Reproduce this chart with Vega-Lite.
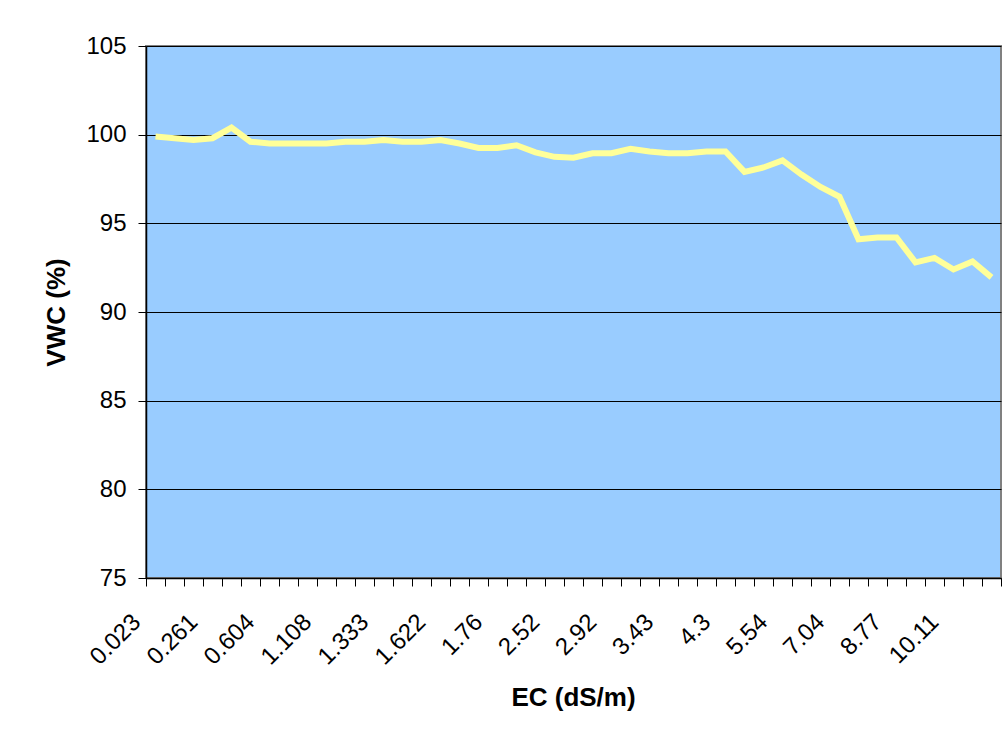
{
  "$schema": "https://vega.github.io/schema/vega-lite/v6.json",
  "width": 855,
  "height": 532,
  "autosize": {"type": "none"},
  "padding": {"left": 146, "top": 46, "right": 2, "bottom": 160},
  "background": "white",
  "data": {
    "values": [
      {"ec": "0.023", "vwc": 99.9},
      {"ec": "0.1", "vwc": 99.8},
      {"ec": "0.18", "vwc": 99.7},
      {"ec": "0.261", "vwc": 99.8},
      {"ec": "0.37", "vwc": 100.4},
      {"ec": "0.48", "vwc": 99.6},
      {"ec": "0.604", "vwc": 99.5},
      {"ec": "0.77", "vwc": 99.5},
      {"ec": "0.94", "vwc": 99.5},
      {"ec": "1.108", "vwc": 99.5},
      {"ec": "1.18", "vwc": 99.6},
      {"ec": "1.26", "vwc": 99.6},
      {"ec": "1.333", "vwc": 99.7},
      {"ec": "1.43", "vwc": 99.6},
      {"ec": "1.53", "vwc": 99.6},
      {"ec": "1.622", "vwc": 99.7},
      {"ec": "1.67", "vwc": 99.5},
      {"ec": "1.71", "vwc": 99.25},
      {"ec": "1.76", "vwc": 99.25},
      {"ec": "2.01", "vwc": 99.4},
      {"ec": "2.27", "vwc": 99.0},
      {"ec": "2.52", "vwc": 98.75},
      {"ec": "2.65", "vwc": 98.7},
      {"ec": "2.79", "vwc": 98.95},
      {"ec": "2.92", "vwc": 98.95},
      {"ec": "3.09", "vwc": 99.2},
      {"ec": "3.26", "vwc": 99.05},
      {"ec": "3.43", "vwc": 98.95},
      {"ec": "3.72", "vwc": 98.95},
      {"ec": "4.01", "vwc": 99.05},
      {"ec": "4.3", "vwc": 99.05},
      {"ec": "4.71", "vwc": 97.9},
      {"ec": "5.13", "vwc": 98.15},
      {"ec": "5.54", "vwc": 98.55},
      {"ec": "6.04", "vwc": 97.75},
      {"ec": "6.54", "vwc": 97.05},
      {"ec": "7.04", "vwc": 96.5},
      {"ec": "7.62", "vwc": 94.1},
      {"ec": "8.19", "vwc": 94.2},
      {"ec": "8.77", "vwc": 94.2},
      {"ec": "9.21", "vwc": 92.8},
      {"ec": "9.66", "vwc": 93.05},
      {"ec": "10.11", "vwc": 92.4},
      {"ec": "10.6", "vwc": 92.85},
      {"ec": "11.1", "vwc": 91.95}
    ]
  },
  "mark": {"type": "line", "color": "#FFFF99", "strokeWidth": 6, "strokeJoin": "miter"},
  "encoding": {
    "x": {
      "field": "ec",
      "type": "nominal",
      "sort": null,
      "bandPosition": 0.5,
      "scale": {"type": "band", "paddingInner": 0, "paddingOuter": 0},
      "axis": {
        "title": "EC (dS/m)",
        "tickBand": "extent",
        "grid": false,
        "labelExpr": "indexof(['0.023','0.261','0.604','1.108','1.333','1.622','1.76','2.52','2.92','3.43','4.3','5.54','7.04','8.77','10.11'], datum.value) >= 0 ? datum.label : ''",
        "labelAngle": -45,
        "labelAlign": "right",
        "labelBaseline": "alphabetic",
        "labelPadding": 37,
        "labelOffset": -14,
        "labelOverlap": false,
        "labelBound": false,
        "titleX": 427,
        "titleY": 119,
        "titleBaseline": "middle",
        "titleAlign": "center"
      }
    },
    "y": {
      "field": "vwc",
      "type": "quantitative",
      "scale": {"domain": [75, 105], "nice": false, "zero": false},
      "axis": {
        "title": "VWC (%)",
        "values": [75, 80, 85, 90, 95, 100, 105],
        "grid": true,
        "gridColor": "#000000",
        "gridWidth": 1,
        "gridOpacity": 1,
        "labelPadding": 12,
        "titleX": -90,
        "titleY": 266,
        "titleAngle": -90,
        "titleAlign": "center",
        "titleBaseline": "middle"
      }
    }
  },
  "config": {
    "font": "Liberation Sans",
    "view": {"fill": "#99CCFF", "stroke": "#808080", "strokeWidth": 2},
    "axis": {
      "domainColor": "#000000",
      "domainWidth": 1.5,
      "tickColor": "#000000",
      "tickSize": 8,
      "tickWidth": 1,
      "labelFont": "Liberation Sans",
      "labelFontSize": 24,
      "labelColor": "#000000",
      "titleFont": "Liberation Sans",
      "titleFontSize": 26,
      "titleFontWeight": "bold",
      "titleColor": "#000000"
    }
  }
}
